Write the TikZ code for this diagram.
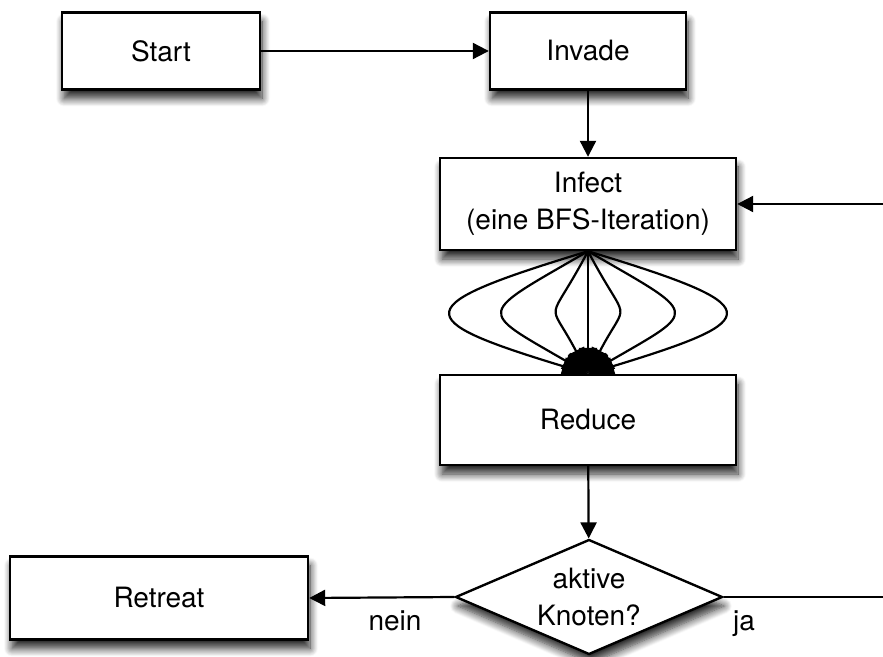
\documentclass[tikz,border=0pt]{standalone}
\usepackage{fontspec}
\setmainfont{TeX Gyre Heros}
\usetikzlibrary{arrows.meta,calc,shapes.geometric,shadows.blur}

\begin{document}
\begin{tikzpicture}[x=0.5pt,y=-0.5pt]

\tikzset{
  box/.style  = {draw, line width=1.2pt, fill=white, align=center, inner sep=0pt,
                 font=\fontsize{14}{18.5}\selectfont,
                 blur shadow={shadow xshift=1pt, shadow yshift=-4.5pt,
                              shadow blur radius=4pt, shadow blur steps=10,
                              shadow opacity=85}},
  test/.style = {box, diamond, aspect=2.3},
  flow/.style = {-{Triangle[length=8pt,width=8pt]}, line width=1.1pt},
  fan/.style  = {-{Triangle[length=13pt,width=9pt]}, line width=1.1pt},
  lbl/.style  = {font=\fontsize{14}{17}\selectfont, inner sep=0pt},
}

\useasboundingbox (0,0) rectangle (883,657);

\node[box, minimum width=99pt, minimum height=38.5pt] (start) at (161,51) {Start};
\node[box, minimum width=98pt, minimum height=38.5pt] (invade) at (588,51) {Invade};
\node[box, minimum width=148pt, minimum height=46pt] (infect) at (588,204) {Infect\\(eine BFS-Iteration)};
\node[box, minimum width=148pt, minimum height=45pt] (reduce) at (588,420) {Reduce};
\node[test, minimum width=133.5pt, minimum height=57.5pt] (check) at (589,597) {aktive\\Knoten?};
\node[box, minimum width=149pt, minimum height=41.5pt] (retreat) at (159,598) {Retreat};
\coordinate (back) at (883,204);
\coordinate (out) at (883,597);

\draw[flow] (start) -- (invade);
\draw[flow] (invade) -- (infect);
\draw[flow] (back) -- (infect.east);

% one branch per worker
\draw[fan] (infect.south) -- (reduce.north);
\foreach \d/\e in {181/55, -181/55, 112/65, -112/65, 41/78, -41/78}
  \draw[fan] (infect.south) .. controls ($(infect.south)+(\d,\e)$)
    and ($(reduce.north)+(\d,-\e)$) .. (reduce.north);

\draw[flow] (reduce) -- (check);
\draw[flow] (check.west) -- (retreat.east);
\draw[line width=1.1pt] (check.east) -- (out);
\node[lbl] (no) at (395,621) {nein};
\node[lbl] (yes) at (744,624) {ja};
\end{tikzpicture}
\end{document}
